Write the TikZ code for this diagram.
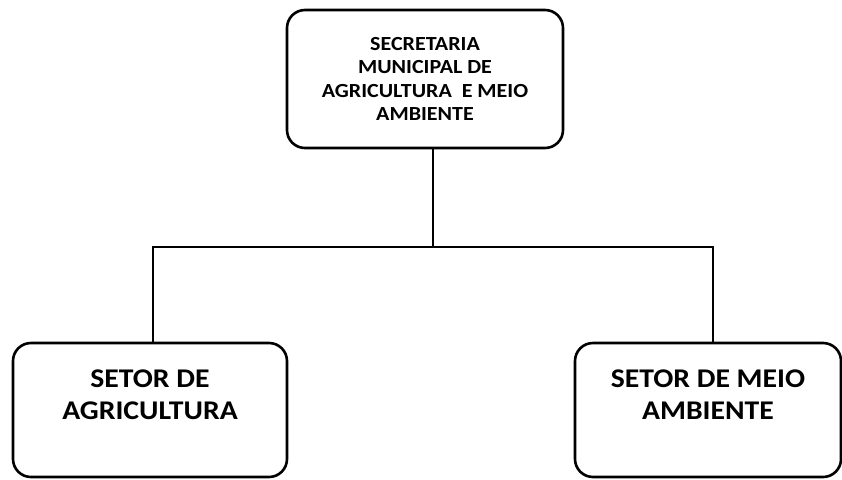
\documentclass[tikz,border=0pt]{standalone}
\usepackage{fontspec}
\setmainfont{Carlito}[FakeStretch=1.1]
\begin{document}
\begin{tikzpicture}[x=1pt, y=-1pt,
  box/.style={draw, line width=2.6pt, rounded corners=18pt, align=center,
    inner sep=0pt, font=\bfseries},
  link/.style={line width=2.6pt}]
\useasboundingbox (0,0) rectangle (842,479);

\node[box, minimum width=276pt, minimum height=138pt, font=\bfseries\fontsize{20}{23.5}\selectfont]
  (sec) at (425,79) {SECRETARIA\\MUNICIPAL DE\\AGRICULTURA\ \ E MEIO\\AMBIENTE};
\node[box, minimum width=274pt, minimum height=134pt, font=\bfseries\fontsize{27}{32}\selectfont]
  (agri) at (150,410) {SETOR DE\\AGRICULTURA\\[-2pt]\mbox{}};
\node[box, minimum width=266pt, minimum height=134pt, font=\bfseries\fontsize{27}{32}\selectfont]
  (amb) at (708,410) {SETOR DE MEIO\\AMBIENTE\\[-2pt]\mbox{}};

\coordinate (bus) at (433,247);
\coordinate (busL) at (153,247);
\coordinate (busR) at (713,247);

\draw[link] (sec.south -| bus) -- (bus);
\draw[link] (agri.north -| busL) -- (busL) -- (busR) -- (amb.north -| busR);
\end{tikzpicture}
\end{document}
